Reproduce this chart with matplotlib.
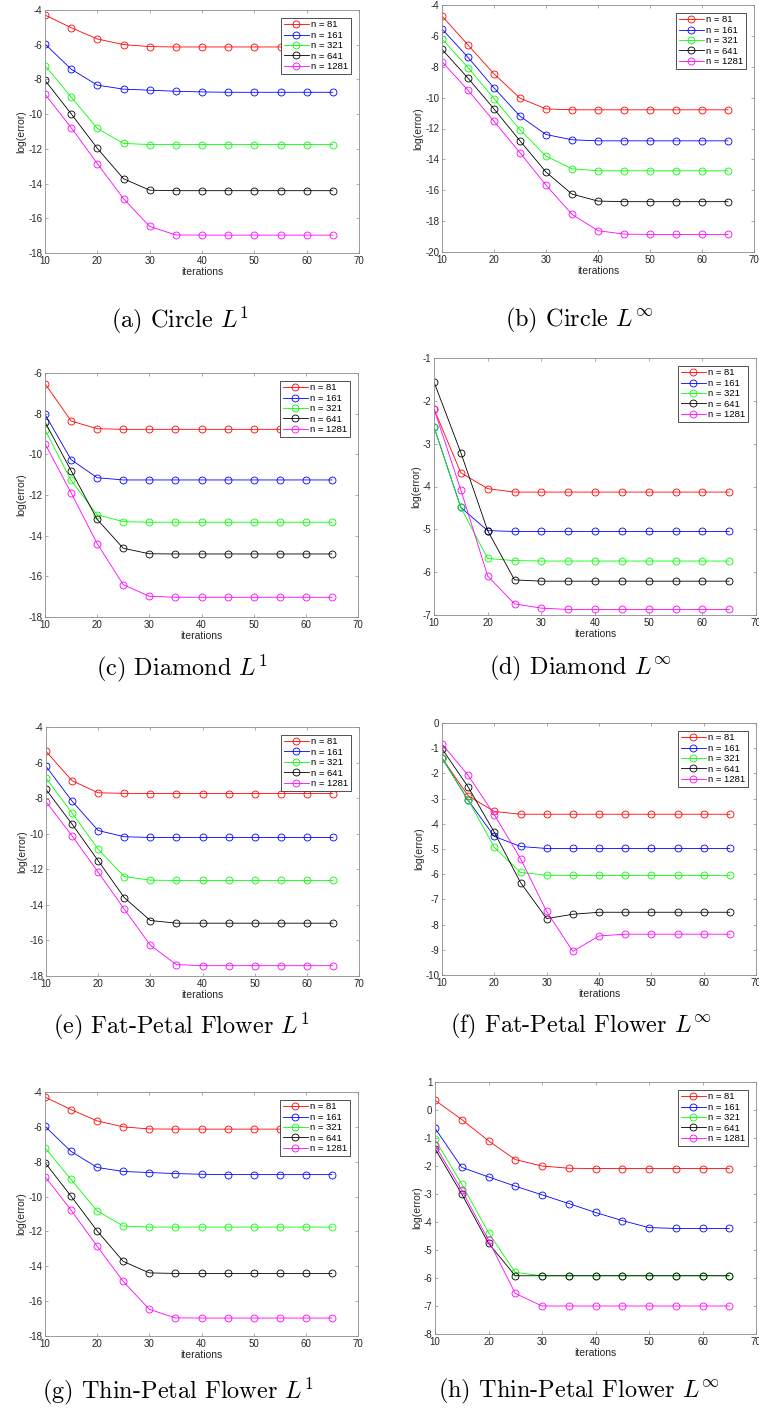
import matplotlib
matplotlib.use("Agg")
import matplotlib.pyplot as plt
import numpy as np

plt.rcParams["font.family"] = ["Liberation Sans", "DejaVu Sans"]
plt.rcParams["mathtext.fontset"] = "cm"
plt.rcParams["axes.unicode_minus"] = False

iterations = [10, 15, 20, 25, 30, 35, 40, 45, 50, 55, 60, 65]
labels = ["n = 81", "n = 161", "n = 321", "n = 641", "n = 1281"]
colors = ["#ff0000", "#0000ff", "#00ff00", "#000000", "#ff00ff"]

# rows: n = 81, 161, 321, 641, 1281
circle_l1 = [
    [-4.29, -5.02, -5.67, -5.99, -6.11, -6.13, -6.13, -6.13, -6.13, -6.13, -6.13, -6.13],
    [-5.96, -7.41, -8.33, -8.56, -8.62, -8.68, -8.72, -8.74, -8.74, -8.74, -8.74, -8.74],
    [-7.20, -9.02, -10.82, -11.69, -11.75, -11.75, -11.75, -11.75, -11.75, -11.75, -11.75, -11.75],
    [-8.05, -9.98, -11.97, -13.72, -14.38, -14.41, -14.41, -14.41, -14.41, -14.41, -14.41, -14.41],
    [-8.85, -10.78, -12.85, -14.87, -16.47, -16.96, -16.97, -16.97, -16.97, -16.97, -16.97, -16.97],
]
circle_linf = [
    [-4.71, -6.59, -8.46, -10.04, -10.73, -10.79, -10.79, -10.79, -10.79, -10.79, -10.79, -10.79],
    [-5.55, -7.39, -9.37, -11.20, -12.39, -12.73, -12.80, -12.80, -12.80, -12.80, -12.80, -12.80],
    [-6.20, -8.05, -10.06, -12.09, -13.79, -14.61, -14.74, -14.74, -14.74, -14.74, -14.74, -14.74],
    [-6.87, -8.74, -10.73, -12.80, -14.82, -16.25, -16.70, -16.74, -16.74, -16.74, -16.74, -16.74],
    [-7.67, -9.52, -11.53, -13.57, -15.67, -17.56, -18.62, -18.84, -18.86, -18.86, -18.86, -18.86],
]
diamond_l1 = [
    [-6.52, -8.36, -8.74, -8.77, -8.77, -8.77, -8.77, -8.77, -8.77, -8.77, -8.77, -8.77],
    [-8.03, -10.26, -11.15, -11.26, -11.26, -11.26, -11.26, -11.26, -11.26, -11.26, -11.26, -11.26],
    [-8.79, -11.28, -12.97, -13.31, -13.34, -13.34, -13.34, -13.34, -13.34, -13.34, -13.34, -13.34],
    [-8.41, -10.80, -13.20, -14.62, -14.89, -14.90, -14.90, -14.90, -14.90, -14.90, -14.90, -14.90],
    [-9.48, -11.89, -14.39, -16.41, -16.98, -17.03, -17.03, -17.03, -17.03, -17.03, -17.03, -17.03],
]
diamond_linf = [
    [-2.19, -3.68, -4.05, -4.13, -4.13, -4.13, -4.13, -4.13, -4.13, -4.13, -4.13, -4.13],
    [-2.61, -4.49, -5.03, -5.05, -5.05, -5.05, -5.05, -5.05, -5.05, -5.05, -5.05, -5.05],
    [-2.61, -4.49, -5.68, -5.73, -5.74, -5.74, -5.74, -5.74, -5.74, -5.74, -5.74, -5.74],
    [-1.56, -3.21, -5.03, -6.18, -6.21, -6.21, -6.21, -6.21, -6.21, -6.21, -6.21, -6.21],
    [-2.19, -4.08, -6.09, -6.74, -6.84, -6.87, -6.87, -6.87, -6.87, -6.87, -6.87, -6.87],
]
fat_l1 = [
    [-5.37, -7.02, -7.70, -7.73, -7.74, -7.74, -7.74, -7.74, -7.74, -7.74, -7.74, -7.74],
    [-6.21, -8.17, -9.82, -10.17, -10.21, -10.21, -10.21, -10.21, -10.21, -10.21, -10.21, -10.21],
    [-6.87, -8.84, -10.87, -12.41, -12.61, -12.63, -12.63, -12.63, -12.63, -12.63, -12.63, -12.63],
    [-7.51, -9.46, -11.52, -13.59, -14.88, -15.03, -15.03, -15.03, -15.03, -15.03, -15.03, -15.03],
    [-8.20, -10.12, -12.16, -14.24, -16.27, -17.36, -17.42, -17.42, -17.42, -17.42, -17.42, -17.42],
]
fat_linf = [
    [-1.39, -2.89, -3.51, -3.62, -3.62, -3.62, -3.62, -3.62, -3.62, -3.62, -3.62, -3.62],
    [-1.39, -3.07, -4.50, -4.90, -4.98, -4.98, -4.98, -4.98, -4.98, -4.98, -4.98, -4.98],
    [-1.39, -3.05, -4.94, -5.93, -6.04, -6.05, -6.05, -6.05, -6.05, -6.05, -6.05, -6.05],
    [-1.02, -2.54, -4.34, -6.33, -7.76, -7.59, -7.51, -7.51, -7.51, -7.51, -7.51, -7.51],
    [-0.83, -2.08, -3.64, -5.38, -7.48, -9.06, -8.45, -8.38, -8.38, -8.38, -8.38, -8.38],
]
thin_l1 = [
    [-4.29, -5.01, -5.66, -6.00, -6.12, -6.13, -6.13, -6.13, -6.13, -6.13, -6.13, -6.13],
    [-5.97, -7.41, -8.33, -8.56, -8.62, -8.68, -8.72, -8.74, -8.74, -8.74, -8.74, -8.74],
    [-7.20, -9.02, -10.82, -11.69, -11.75, -11.75, -11.75, -11.75, -11.75, -11.75, -11.75, -11.75],
    [-8.05, -9.98, -11.97, -13.72, -14.38, -14.41, -14.41, -14.41, -14.41, -14.41, -14.41, -14.41],
    [-8.85, -10.78, -12.85, -14.87, -16.47, -16.96, -16.97, -16.97, -16.97, -16.97, -16.97, -16.97],
]
thin_linf = [
    [0.35, -0.34, -1.10, -1.77, -2.00, -2.08, -2.09, -2.09, -2.09, -2.09, -2.09, -2.09],
    [-0.65, -2.05, -2.39, -2.72, -3.03, -3.34, -3.66, -3.95, -4.20, -4.23, -4.23, -4.23],
    [-1.05, -2.65, -4.38, -5.80, -5.92, -5.92, -5.92, -5.92, -5.92, -5.92, -5.92, -5.92],
    [-1.38, -3.00, -4.76, -5.92, -5.92, -5.92, -5.92, -5.92, -5.92, -5.92, -5.92, -5.92],
    [-1.26, -2.86, -4.65, -6.55, -7.00, -7.00, -7.00, -7.00, -7.00, -7.00, -7.00, -7.00],
]

captions = [
    r"(a) Circle $L^1$",
    r"(b) Circle $L^\infty$",
    r"(c) Diamond $L^1$",
    r"(d) Diamond $L^\infty$",
    r"(e) Fat-Petal Flower $L^1$",
    r"(f) Fat-Petal Flower $L^\infty$",
    r"(g) Thin-Petal Flower $L^1$",
    r"(h) Thin-Petal Flower $L^\infty$",
]
panels = [circle_l1, circle_linf, diamond_l1, diamond_linf,
          fat_l1, fat_linf, thin_l1, thin_linf]
ylims = [(-18, -4, 2), (-20, -4, 2), (-18, -6, 2), (-7, -1, 1),
         (-18, -4, 2), (-10, 0, 1), (-18, -4, 2), (-8, 1, 1)]

# axes boxes in pixels: x0, x1, y_top, y_bottom
W, H = 759, 1414
boxes = [
    (45, 359, 10, 253), (442, 754, 5, 252),
    (45, 358, 373, 617), (434, 756, 358, 615),
    (46, 359, 727, 976), (442, 756, 723, 975),
    (45, 358, 1092, 1336), (435, 756, 1082, 1334),
]
caption_pos = [(180, 320), (579, 320), (182, 668), (580, 668),
               (181, 1026), (581, 1026), (178, 1391), (579, 1391)]

fig = plt.figure(figsize=(W / 100, H / 100), dpi=100)
axis_grey = "#8c8c8c"
text_grey = "#262626"

for i, data in enumerate(panels):
    x0, x1, yt, yb = boxes[i]
    ax = fig.add_axes([x0 / W, 1 - yb / H, (x1 - x0) / W, (yb - yt) / H])
    for vals, c, lab in zip(data, colors, labels):
        ax.plot(iterations, vals, color=c, lw=0.6, marker="o", ms=5,
                mfc="none", mew=0.6, label=lab)
    lo, hi, step = ylims[i]
    ax.set_xlim(10, 70)
    ax.set_ylim(lo, hi)
    ax.set_xticks(np.arange(10, 71, 10))
    ax.set_yticks(np.arange(lo, hi + 0.01, step))
    ax.tick_params(direction="in", length=2.5, width=0.5, labelsize=7,
                   colors=axis_grey, labelcolor=text_grey, top=True, right=True,
                   pad=2)
    for s in ax.spines.values():
        s.set_color(axis_grey)
        s.set_linewidth(0.6)
    ax.set_xlabel("iterations", fontsize=7.5, color=text_grey, labelpad=1)
    ax.set_ylabel("log(error)", fontsize=7.5, color=text_grey, labelpad=1)
    leg = ax.legend(loc="upper right", fontsize=6.8, frameon=True, fancybox=False,
                    framealpha=1, edgecolor="#333333", borderaxespad=0.8,
                    labelspacing=0.15, handlelength=2.6, handletextpad=0.3,
                    borderpad=0.3)
    leg.get_frame().set_linewidth(0.6)
    cx, cy = caption_pos[i]
    fig.text(cx / W, 1 - cy / H, captions[i], fontsize=17.5, family="cmr10",
             ha="center", va="center")

fig.savefig("out.png", dpi=100)
